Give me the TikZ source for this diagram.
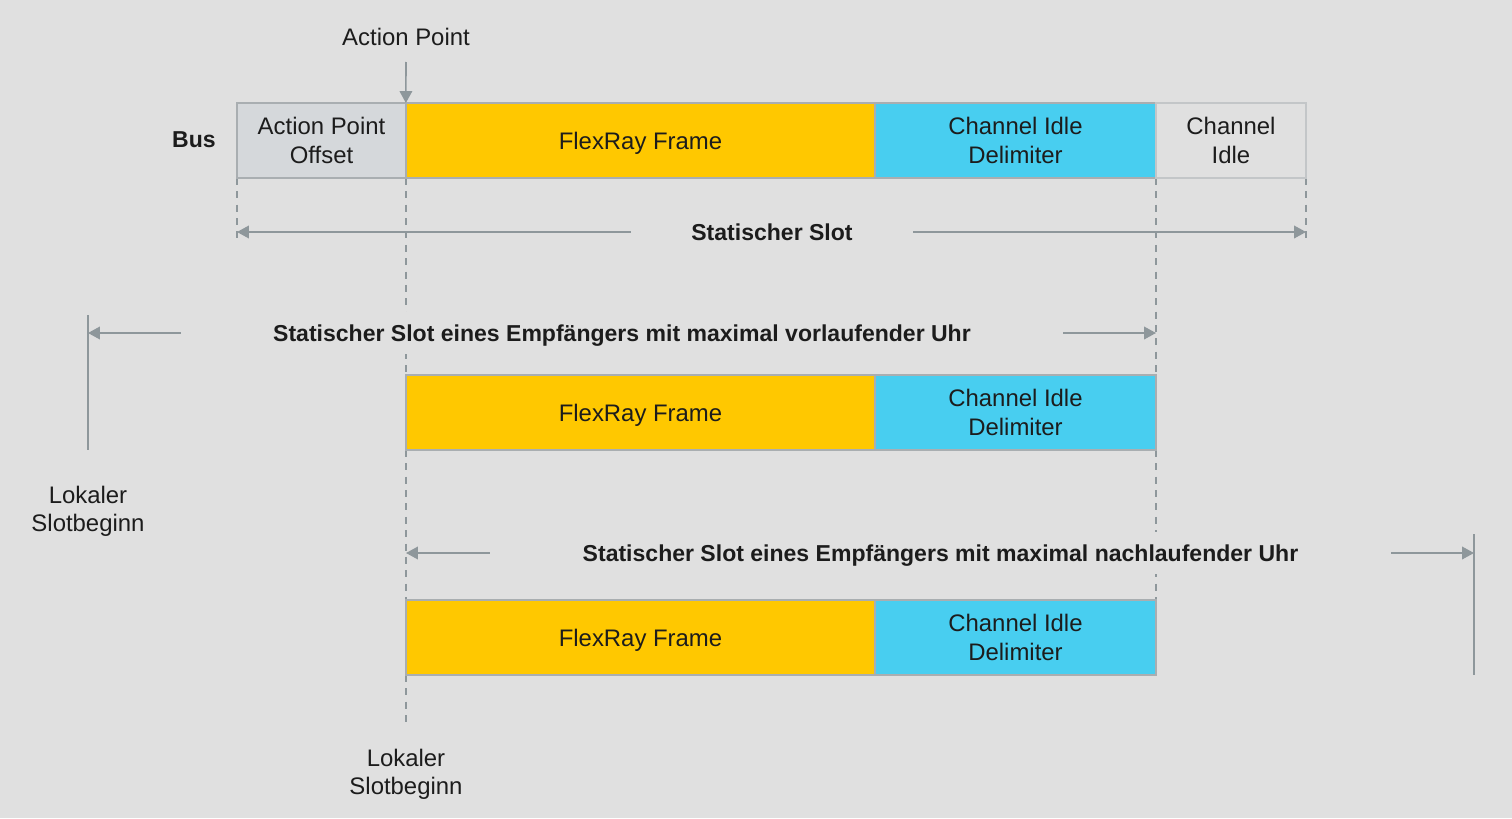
\documentclass[tikz,border=0pt]{standalone}
\usepackage{fontspec}
\setmainfont{Liberation Sans}
\usetikzlibrary{arrows.meta}
\definecolor{bg}{HTML}{E0E0E0}
\definecolor{apo}{HTML}{D5D8DB}
\definecolor{yel}{HTML}{FFC800}
\definecolor{cya}{HTML}{48CEF0}
\definecolor{ln}{HTML}{8E979B}
\definecolor{bl}{HTML}{A9AEB1}
\definecolor{txt}{HTML}{1C1C1C}
\begin{document}
\begin{tikzpicture}[x=0.01cm,y=-0.01cm,
  font=\fontsize{6.8}{8}\selectfont, text=txt,
  box/.style={draw=bl, line width=0.4pt, minimum height=0.75cm, inner sep=0pt, outer sep=0pt, align=center},
  frbox/.style={box, fill=yel, minimum width=4.69cm, text depth=0pt},
  cidbox/.style={box, fill=cya, minimum width=2.81cm},
  dashln/.style={draw=ln, line width=0.45pt, dash pattern=on 2pt off 1.8pt},
  solidln/.style={draw=ln, line width=0.5pt},
  arr/.style={draw=ln, line width=0.45pt, -{Triangle[length=3.4pt,width=3.6pt]}},
  lbl/.style={fill=bg, inner sep=0pt, outer sep=0pt, minimum height=0.42cm, font=\fontsize{6.55}{8}\selectfont\bfseries},
  plain/.style={align=center, inner sep=0pt}]
\fill[bg] (0,0) rectangle (1512,818);
\useasboundingbox (0,0) rectangle (1512,818);

% coordinates
\coordinate (apTop) at (406,62);
\coordinate (d1a) at (237,178); \coordinate (d1b) at (237,238);
\coordinate (d4a) at (1306,178); \coordinate (d4b) at (1306,238);
\coordinate (ssL) at (237,232); \coordinate (ssR) at (1306,232);
\coordinate (vL) at (88,333); \coordinate (vR) at (1156,333);
\coordinate (vTop) at (88,315); \coordinate (vBot) at (88,450);
\coordinate (nL) at (406,553); \coordinate (nR) at (1474,553);
\coordinate (nTop) at (1474,534); \coordinate (nBot) at (1474,675);
\coordinate (endD) at (406,725);

% dashed lines (behind)
\draw[dashln] (d1a) -- (d1b);
\draw[dashln] (d4a) -- (d4b);
\draw[dashln] (406,178) -- (406,375);
\draw[dashln] (406,450) -- (406,600);
\draw[dashln] (406,675) -- (endD);
\draw[dashln] (1156,178) -- (1156,375);
\draw[dashln] (1156,450) -- (1156,600);

% boxes row 1
\node[box, fill=apo, minimum width=1.69cm] (apo) at (321.5,140.5) {Action Point\\Offset};
\node[frbox] (fr1) at (640.5,140.5) {FlexRay Frame};
\node[cidbox] (cid1) at (1015.5,140.5) {Channel Idle\\Delimiter};
\node[box, fill=bg, draw=bl!70, minimum width=1.50cm] (ci) at (1231,140.5) {Channel\\Idle};
% row 2
\node[frbox] (fr2) at (640.5,412.5) {FlexRay Frame};
\node[cidbox] (cid2) at (1015.5,412.5) {Channel Idle\\Delimiter};
% row 3
\node[frbox] (fr3) at (640.5,637.5) {FlexRay Frame};
\node[cidbox] (cid3) at (1015.5,637.5) {Channel Idle\\Delimiter};

% labels
\node[plain, font=\fontsize{6.55}{8}\selectfont\bfseries] (bus) at (194,140) {Bus};
\node[plain] (ap) at (406,37) {Action Point};
\node[lbl, minimum width=2.82cm] (ss) at (772,232) {Statischer Slot};
\node[lbl, minimum width=8.82cm, text depth=0pt] (vor) at (622,333) {Statischer Slot eines Empfängers mit maximal vorlaufender Uhr};
\node[lbl, minimum width=9.01cm, text depth=0pt] (nach) at (940.5,553) {Statischer Slot eines Empfängers mit maximal nachlaufender Uhr};
\node[plain] (lsb1) at (88,511) {Lokaler\\Slotbeginn};
\node[plain] (lsb2) at (406,774) {Lokaler\\Slotbeginn};

% connectors
\draw[arr] (apTop) -- (fr1.north west);
\draw[arr] (ss.west) -- (ssL);
\draw[arr] (ss.east) -- (ssR);
\draw[solidln] (vTop) -- (vBot);
\draw[arr] (vor.west) -- (vL);
\draw[arr] (vor.east) -- (vR);
\draw[solidln] (nTop) -- (nBot);
\draw[arr] (nach.west) -- (nL);
\draw[arr] (nach.east) -- (nR);
\end{tikzpicture}
\end{document}
